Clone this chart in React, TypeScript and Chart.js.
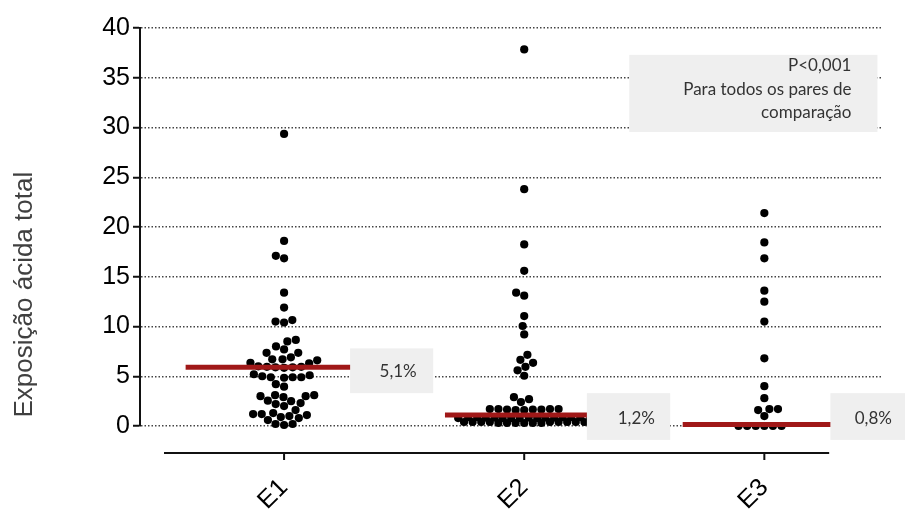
import React, { useEffect, useRef } from 'react';
import { Chart, registerables } from 'chart.js';

Chart.register(...registerables);

// ---------------- data ----------------
const categories = ['E1', 'E2', 'E3'];

const e1Values = [
  29.35, 18.6, 17.1, 16.85, 13.4, 11.9, 10.65, 10.4, 10.5, 8.65, 8.5, 8.0,
  7.7, 7.35, 7.35, 6.9, 6.7, 6.6, 6.35, 6.3, 6.7, 5.85, 5.95, 5.9, 6.0, 5.9,
  5.95, 4.9, 5.1, 4.9, 4.9, 4.85, 5.0, 5.2, 4.2, 3.95, 3.1, 3.0, 2.9, 2.5,
  2.55, 3.0, 3.1, 2.2, 2.0, 2.3, 1.6, 1.3, 1.1, 1.2, 1.2, 1.0, 0.9, 0.8, 0.6,
  0.2, 0.1, 0.2,
];

const e2Values = [
  37.85, 23.8, 18.25, 15.6, 13.4, 13.1, 11.05, 10.05, 9.2, 7.15, 6.65, 6.35,
  5.95, 5.6, 5.05, 2.9, 2.7, 2.4,
  1.7, 1.65, 1.7, 1.6, 1.65, 1.7, 1.6, 1.65, 1.7,
  0.9, 0.8, 0.85, 0.9, 0.8, 0.85, 0.8, 0.9, 0.85, 0.8, 0.9, 0.85, 0.8, 0.9, 0.8, 0.85,
  0.4, 0.3, 0.4, 0.3, 0.4, 0.4, 0.3, 0.4, 0.4, 0.3, 0.4, 0.4, 0.3, 0.4, 0.3,
];

const e3Values = [
  21.4, 18.45, 16.85, 13.6, 12.5, 10.5, 6.8, 4.0, 2.8, 1.7, 1.6, 1.7, 1.0,
  0.0, 0.0, 0.0, 0.0, 0.0, 0.0,
];

const groupValues = [e1Values, e2Values, e3Values];
const medianLevels = [5.9, 1.1, 0.15];
const medianLabels = ['5,1%', '1,2%', '0,8%'];
const noteLines = ['P<0,001', 'Para todos os pares de', 'comparação'];
const yTitle = 'Exposição ácida total';
const yMin = 0;
const yMax = 40;
const yStep = 5;

// ---------------- layout / style constants ----------------
const X_PX = 240; // px per category unit (layout of the swarm)
const Y_PX = 9.95; // px per y unit
const DOT_GAP = 8.6; // px between dot centres
const SWARM_HALF = 66; // px max half width of a swarm
const MEDIAN_HALF = [0.41, 0.33, 0.34];
const LABEL_BOXES = [
  { x0: 1.275, x1: 1.621, y0: 7.8, y1: 3.3, tx: 1.475, ty: 5.48 },
  { x0: 2.261, x1: 2.608, y0: 3.3, y1: -1.4, tx: 2.467, ty: 0.8 },
  { x0: 3.275, x1: 3.6, y0: 3.3, y1: -1.4, tx: 3.454, ty: 0.8 },
];
const NOTE_BOX = { x0: 2.4375, x1: 3.471, y0: 37.3, y1: 29.55, tx: 3.3625, ty: [36.18, 33.82, 31.46] };
const AXIS_FROM = 0.5;
const AXIS_TO = 3.27;
const AXIS_GAP = 27;
const TITLE_AT = { dx: -115, yv: 13.2 };

const FONT = "'Liberation Sans', Arial, sans-serif";
const NOTE_FONT = "17px Lato, 'Open Sans', sans-serif";
const RED = '#a01818';
const BOX_FILL = '#efefef';

function swarm(values: number[], center: number) {
  const placed: { x: number; y: number }[] = [];
  const order = values.map((_, i) => i).sort((a, b) => values[a] - values[b]);
  const out: { x: number; y: number }[] = new Array(values.length);
  const d2 = DOT_GAP * DOT_GAP;
  for (const i of order) {
    const y = values[i] * Y_PX;
    const near = placed.filter((p) => Math.abs(p.y - y) < DOT_GAP);
    const cands = [0];
    near.forEach((p) => {
      const dx = Math.sqrt(d2 - (p.y - y) * (p.y - y));
      cands.push(p.x + dx, p.x - dx);
    });
    cands.sort((a, b) => Math.abs(a) - Math.abs(b) || a - b);
    let x = NaN;
    for (const c of cands) {
      if (Math.abs(c) > SWARM_HALF) break;
      if (near.every((p) => (p.x - c) ** 2 + (p.y - y) ** 2 >= d2 - 1e-6)) {
        x = c;
        break;
      }
    }
    if (isNaN(x)) {
      let best = -1;
      x = 0;
      for (let c = -SWARM_HALF; c <= SWARM_HALF; c += 0.5) {
        const m = Math.min(...near.map((p) => Math.hypot(p.x - c, p.y - y)));
        if (m > best + 1e-9) {
          best = m;
          x = c;
        }
      }
    }
    placed.push({ x, y });
    out[i] = { x: center + x / X_PX, y: values[i] };
  }
  return out;
}

const decor = {
  id: 'decor',
  afterDatasetsDraw(chart: any) {
    const { ctx } = chart;
    const x = chart.scales.x;
    const y = chart.scales.y;
    ctx.save();
    LABEL_BOXES.forEach((b, i) => {
      const l = x.getPixelForValue(b.x0);
      const r = x.getPixelForValue(b.x1);
      const t = y.getPixelForValue(b.y0);
      const bt = y.getPixelForValue(b.y1);
      ctx.fillStyle = BOX_FILL;
      ctx.fillRect(l, t, r - l, bt - t);
      ctx.fillStyle = '#333';
      ctx.font = NOTE_FONT;
      ctx.textAlign = 'center';
      ctx.textBaseline = 'middle';
      ctx.fillText(medianLabels[i], x.getPixelForValue(b.tx), y.getPixelForValue(b.ty));
    });
    const nl = x.getPixelForValue(NOTE_BOX.x0);
    const nr = x.getPixelForValue(NOTE_BOX.x1);
    const nt = y.getPixelForValue(NOTE_BOX.y0);
    const nb = y.getPixelForValue(NOTE_BOX.y1);
    ctx.fillStyle = BOX_FILL;
    ctx.fillRect(nl, nt, nr - nl, nb - nt);
    ctx.fillStyle = '#333';
    ctx.font = NOTE_FONT;
    ctx.textAlign = 'right';
    ctx.textBaseline = 'middle';
    noteLines.forEach((line, i) => {
      ctx.fillText(line, x.getPixelForValue(NOTE_BOX.tx), y.getPixelForValue(NOTE_BOX.ty[i]));
    });
    ctx.restore();
  },
  afterDraw(chart: any) {
    const { ctx, chartArea } = chart;
    const x = chart.scales.x;
    const y = chart.scales.y;
    ctx.save();
    const ay = chartArea.bottom + AXIS_GAP;
    ctx.strokeStyle = '#111';
    ctx.lineWidth = 2;
    ctx.beginPath();
    ctx.moveTo(x.getPixelForValue(AXIS_FROM), ay);
    ctx.lineTo(x.getPixelForValue(AXIS_TO), ay);
    categories.forEach((_, i) => {
      const px = x.getPixelForValue(i + 1);
      ctx.moveTo(px, ay);
      ctx.lineTo(px, ay + 7);
    });
    ctx.stroke();
    // y title
    ctx.translate(chartArea.left + TITLE_AT.dx, y.getPixelForValue(TITLE_AT.yv));
    ctx.rotate(-Math.PI / 2);
    ctx.fillStyle = '#404040';
    ctx.font = `26px ${FONT}`;
    ctx.textAlign = 'center';
    ctx.textBaseline = 'middle';
    ctx.fillText(yTitle, 0, 0);
    ctx.restore();
  },
};

export default function App() {
  const ref = useRef<HTMLCanvasElement | null>(null);
  useEffect(() => {
    if (!ref.current) return;
    const datasets: any[] = [];
    categories.forEach((cat, i) => {
      datasets.push({
        type: 'line',
        label: `${cat} mediana`,
        data: [
          { x: i + 1 - MEDIAN_HALF[i], y: medianLevels[i] },
          { x: i + 1 + MEDIAN_HALF[i], y: medianLevels[i] },
        ],
        borderColor: RED,
        borderWidth: 5,
        pointRadius: 0,
        fill: false,
        clip: false,
        order: 0,
      });
    });
    groupValues.forEach((vals, i) => {
      datasets.push({
        type: 'scatter',
        label: categories[i],
        data: swarm(vals, i + 1),
        backgroundColor: '#000',
        borderWidth: 0,
        pointRadius: 4.1,
        clip: false,
        order: 1,
      });
    });
    const chart = new Chart(ref.current, {
      type: 'scatter',
      data: { datasets },
      options: {
        animation: false,
        responsive: false,
        devicePixelRatio: 1,
        layout: { padding: { top: 28, right: 23, left: 0, bottom: 0 } },
        plugins: { legend: { display: false }, tooltip: { enabled: false } },
        scales: {
          x: {
            type: 'linear',
            min: 0.4,
            max: 3.49,
            afterBuildTicks: (scale: any) => {
              scale.ticks = categories.map((_, i) => ({ value: i + 1 }));
            },
            afterFit: (scale: any) => {
              scale.height = 87;
            },
            grid: { display: false, drawTicks: false },
            border: { display: false },
            ticks: {
              autoSkip: false,
              minRotation: 45,
              maxRotation: 45,
              padding: 47,
              color: '#000',
              font: { family: FONT, size: 25 },
              callback: (v: any) => categories[Math.round(Number(v)) - 1] ?? '',
            },
          },
          y: {
            type: 'linear',
            min: yMin,
            max: yMax,
            afterFit: (scale: any) => {
              scale.width = 140;
            },
            ticks: {
              stepSize: yStep,
              padding: 3,
              color: '#000',
              font: { family: FONT, size: 25 },
            },
            grid: {
              color: '#444',
              lineWidth: 1.5,
              tickLength: 7,
              tickColor: '#111',
              tickWidth: 2,
            },
            border: { display: true, color: '#111', width: 2, dash: [1.5, 2] },
          },
        },
      },
      plugins: [decor],
    } as any);
    return () => chart.destroy();
  }, []);
  return (
    <div style={{ position: 'absolute', left: 0, top: 0, width: 905, height: 513, background: '#fff' }}>
      <canvas ref={ref} width={905} height={513} style={{ display: 'block' }} />
    </div>
  );
}
